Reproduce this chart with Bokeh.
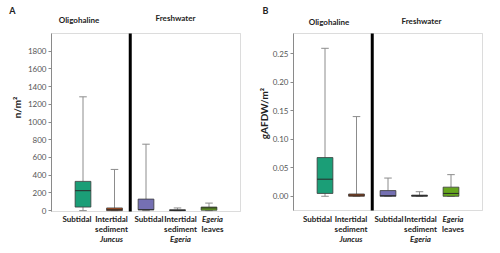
import math
from bokeh.plotting import figure
from bokeh.layouts import row
from bokeh.models import (Range1d, Label, FixedTicker, ColumnDataSource,
                          CustomJSTickFormatter, BoxAnnotation)
from bokeh.embed import file_html
from bokeh.resources import INLINE

# ---- data ----
positions = [1, 2, 3, 4, 5]
colors = ["#1b9e77", "#c4521a", "#7570b3", "#2b2b2b", "#66a61e"]

a_low = [0, 0, 0, 0, 0]
a_q1 = [40, 0, 10, 0, 5]
a_med = [225, 10, 10, 2, 30]
a_q3 = [330, 30, 130, 10, 40]
a_high = [1285, 465, 750, 30, 85]
a_ticks = [0, 200, 400, 600, 800, 1000, 1200, 1400, 1600, 1800]

b_low = [0, 0, 0, 0, 0]
b_q1 = [0.005, 0, 0, 0, 0]
b_med = [0.03, 0.002, 0.001, 0.001, 0.005]
b_q3 = [0.068, 0.004, 0.01, 0.002, 0.016]
b_high = [0.26, 0.14, 0.032, 0.008, 0.038]
b_ticks = [0.0, 0.05, 0.10, 0.15, 0.20, 0.25]

# category label lines (text, italic?) per category
cat_lines = [
    [("Subtidal", False)],
    [("Intertidal", False), ("sediment", False), ("Juncus", True)],
    [("Subtidal", False)],
    [("Intertidal", False), ("sediment", False), ("Egeria", True)],
    [("Egeria", True), ("leaves", False)],
]
group_titles = ["Oligohaline", "Freshwater"]

FONT = "Lato"
W, H = 250, 253


def make_panel(letter, letter_px, ylabel, low, q1, med, q3, high, ticks, yr, fmt,
               box, ylabel_px, title_px, cat_px):
    box_left, box_right, box_top, box_bottom = box
    bw = box_right - box_left
    bh = box_bottom - box_top
    xs = 6.0 / bw
    ys = (yr[1] - yr[0]) / bh
    x_range = Range1d(0 - box_left * xs, 6 + (W - box_right) * xs)
    y_range = Range1d(yr[0] - (H - box_bottom) * ys, yr[1] + box_top * ys)
    p = figure(width=W, height=H, output_backend="svg", toolbar_location=None,
               x_range=x_range, y_range=y_range, min_border=0,
               min_border_left=0, min_border_right=0, min_border_top=0,
               min_border_bottom=0)
    p.title.visible = False
    p.xaxis.visible = False
    p.xgrid.visible = False
    p.ygrid.visible = False
    p.outline_line_color = None

    ax = p.yaxis[0]
    ax.fixed_location = 0
    ax.bounds = (yr[0], yr[1])
    ax.ticker = FixedTicker(ticks=ticks)
    ax.minor_tick_line_color = None
    ax.major_tick_out = 3
    ax.major_tick_in = 0
    ax.axis_line_color = "#8a8a8a"
    ax.major_tick_line_color = "#8a8a8a"
    ax.major_label_text_font = FONT
    ax.major_label_text_font_size = "8px"
    ax.major_label_text_color = "#555555"
    ax.major_label_standoff = 2
    ax.formatter = CustomJSTickFormatter(code=fmt)

    p.add_layout(BoxAnnotation(left=0, right=6, bottom=yr[0], top=yr[1],
                               fill_alpha=0, line_color="#8a8a8a", line_width=1,
                               level="underlay"))

    src = ColumnDataSource(dict(x=positions, low=low, q1=q1, med=med, q3=q3,
                                high=high, color=colors))
    p.segment("x", "q3", "x", "high", source=src, line_color="#8c8c8c", line_width=1)
    p.segment("x", "low", "x", "q1", source=src, line_color="#8c8c8c", line_width=1)
    cw = 0.12
    xs0 = [x - cw for x in positions]
    xs1 = [x + cw for x in positions]
    p.segment(xs0, high, xs1, high, line_color="#8c8c8c", line_width=1)
    p.segment(xs0, low, xs1, low, line_color="#8c8c8c", line_width=1)
    p.vbar(x="x", width=0.5, bottom="q1", top="q3", source=src,
           fill_color="color", line_color="#3a3a3a", line_width=0.8)
    p.segment([x - 0.25 for x in positions], med, [x + 0.25 for x in positions], med,
              line_color="#2a2a2a", line_width=1)
    p.segment([2.5], [yr[0]], [2.5], [yr[1]], line_color="black", line_width=3)

    def lab(x, y, t, size="8px", style="bold", color="#222222", angle=0):
        p.add_layout(Label(x=x, y=y, x_units="canvas", y_units="canvas", text=t,
                           text_font=FONT, text_font_size=size,
                           text_font_style=style, text_color=color, angle=angle,
                           text_align="center", text_baseline="middle"))

    lab(letter_px[0], letter_px[1], letter, size="9px")
    for t, (tx, ty) in zip(group_titles, title_px):
        lab(tx, ty, t)
    lab(ylabel_px[0], ylabel_px[1], ylabel, size="10px", angle=math.pi / 2)

    line_y = [218, 228, 238]
    for lines, xpos in zip(cat_lines, cat_px):
        for i, (t, it) in enumerate(lines):
            lab(xpos, line_y[i], t, style="bold italic" if it else "bold")
    return p


pa = make_panel("A", (12, 10), "n/m²", a_low, a_q1, a_med, a_q3, a_high, a_ticks,
                (-10, 2000), "return tick.toFixed(0);", (51, 240, 33, 211),
                (16, 107), [(78.5, 19), (175, 17)], [76.5, 111, 148.5, 180, 212])
pb = make_panel("B", (15, 10), "gAFDW/m²", b_low, b_q1, b_med, b_q3, b_high, b_ticks,
                (-0.025, 0.286), "return tick.toFixed(2);", (43, 232, 33, 210),
                (13, 113), [(78.5, 21), (171, 20.5)], [67, 100.5, 138.5, 170, 202.5])

layout = row(pa, pb, spacing=0)
open("out.html", "w").write(file_html(layout, INLINE))
